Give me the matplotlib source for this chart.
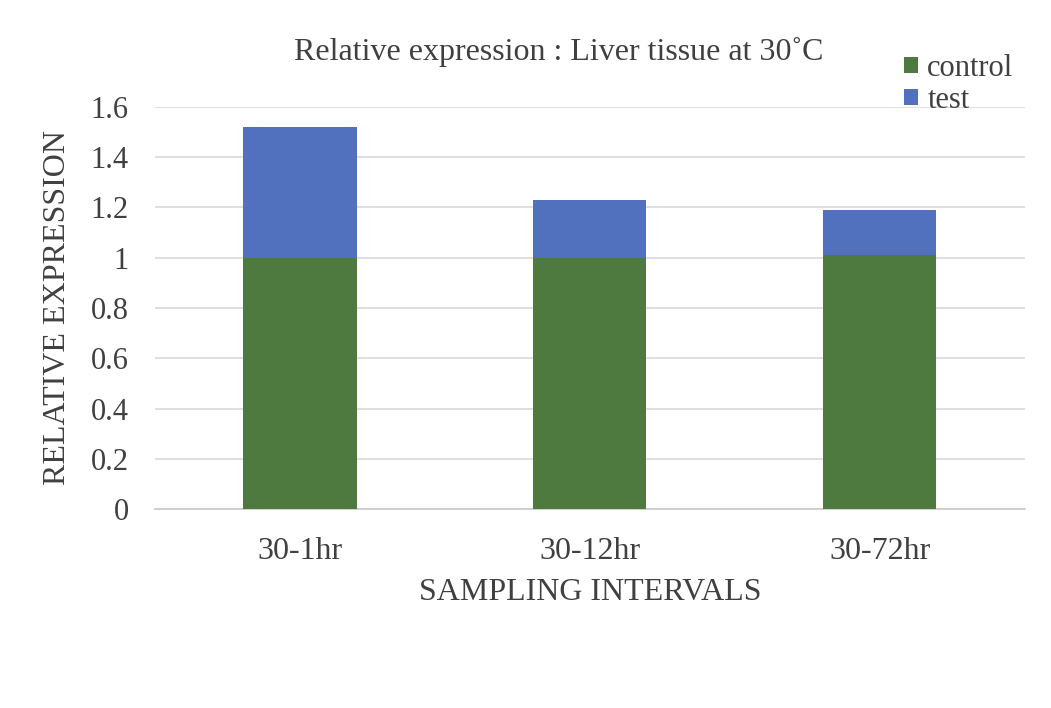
import numpy as np
import matplotlib.pyplot as plt

plt.rcParams['font.family'] = ['Liberation Serif', 'DejaVu Serif']

intervals = ['30-1hr', '30-12hr', '30-72hr']
control = [1.0, 1.0, 1.01]
test = [0.52, 0.23, 0.18]

green = '#4E7A3F'
blue = '#5171BF'
txt = '#404040'

fig = plt.figure(figsize=(10.51, 7.08), dpi=100)
ax = fig.add_axes([0.1475, 0.281, 0.8275, 0.568])

x = np.arange(len(intervals))
ax.bar(x, control, width=0.39, color=green, label='control', zorder=3)
ax.bar(x, test, width=0.39, bottom=control, color=blue, label='test', zorder=3)

ax.set_xlim(-0.5, 2.5)
ax.set_ylim(0, 1.6)
ax.set_yticks(np.arange(0, 1.61, 0.2))
ax.set_yticklabels(['0', '0.2', '0.4', '0.6', '0.8', '1', '1.2', '1.4', '1.6'])
ax.set_xticks(x)
ax.set_xticklabels(intervals)
ax.tick_params(axis='both', length=0, labelsize=22, colors=txt)
ax.tick_params(axis='x', labelsize=23, pad=20)
ax.tick_params(axis='y', pad=19)

ax.yaxis.grid(True, color='#d9d9d9', linewidth=1.2, zorder=0)
for s in ['top', 'right', 'left']:
    ax.spines[s].set_visible(False)
ax.spines['bottom'].set_color('#c8c8c8')
ax.spines['bottom'].set_linewidth(1.2)

ax.set_xlabel('SAMPLING INTERVALS', fontsize=23, color=txt, labelpad=9)
ax.set_ylabel('RELATIVE EXPRESSION', fontsize=23, color=txt, labelpad=13)

fig.text(0.532, 0.927, 'Relative expression : Liver tissue at 30˚C',
         ha='center', va='center', fontsize=23, color=txt)

ax.legend(loc='upper left', bbox_to_anchor=(0.830, 1.20), frameon=False,
          fontsize=22, handlelength=0.45, handleheight=0.45, handletextpad=0.3,
          labelspacing=0.1, labelcolor=txt)

fig.savefig('out.png', dpi=100)
